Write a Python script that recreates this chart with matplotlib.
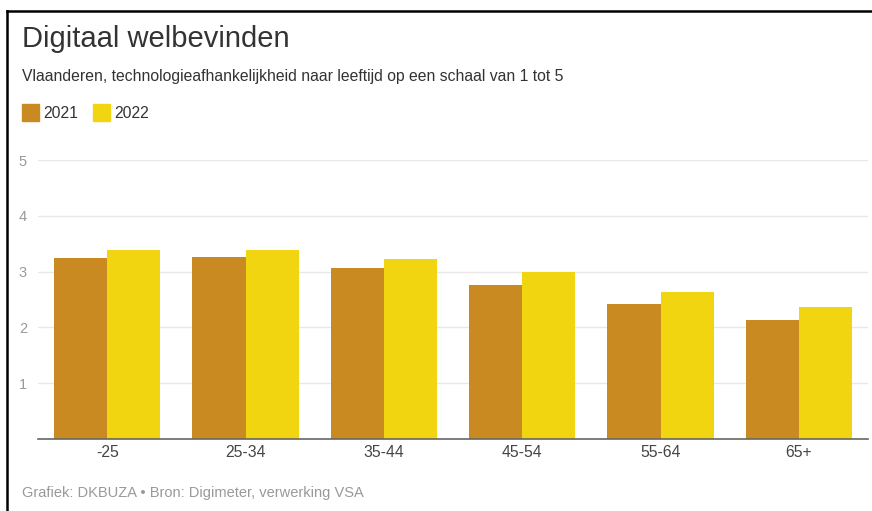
import numpy as np
import matplotlib.pyplot as plt
from matplotlib.lines import Line2D
from matplotlib.patches import Rectangle

plt.rcParams['font.family'] = ['Liberation Sans', 'DejaVu Sans']

# data
leeftijd = ['-25', '25-34', '35-44', '45-54', '55-64', '65+']
jaar_2021 = [3.24, 3.27, 3.06, 2.76, 2.42, 2.13]
jaar_2022 = [3.39, 3.39, 3.22, 2.99, 2.63, 2.37]
kleur_2021 = '#C98A22'
kleur_2022 = '#F0D510'

W, H = 872, 511
fig = plt.figure(figsize=(W / 100, H / 100), dpi=100)
fig.patch.set_facecolor('white')

ax = fig.add_axes([38 / W, 1 - 439 / H, (868 - 38) / W, (439 - 160) / H])
x = np.arange(len(leeftijd))
bw = 0.385
ax.bar(x - bw / 2, jaar_2021, width=bw, color=kleur_2021, zorder=2)
ax.bar(x + bw / 2, jaar_2022, width=bw, color=kleur_2022, zorder=2)

ax.set_xlim(-0.5, len(leeftijd) - 0.5)
ax.set_ylim(0, 5)
ax.set_yticks([1, 2, 3, 4, 5])
ax.set_xticks(x)
ax.set_xticklabels(leeftijd, fontsize=11.3, color='#444444')
ax.tick_params(axis='x', length=0, pad=4)
ax.tick_params(axis='y', length=0, pad=8, labelsize=10.5, labelcolor='#9a9a9a')
ax.yaxis.grid(True, color='#e8e8e8', linewidth=1, zorder=0)
ax.set_axisbelow(True)
for s in ['top', 'right', 'left']:
    ax.spines[s].set_visible(False)
ax.spines['bottom'].set_color('#666666')
ax.spines['bottom'].set_linewidth(1.2)
ax.spines['bottom'].set_zorder(3)

# titels
fig.text(22 / W, 1 - 39 / H, 'Digitaal welbevinden', fontsize=21, color='#333333', va='center')
fig.text(22 / W, 1 - 77 / H, 'Vlaanderen, technologieafhankelijkheid naar leeftijd op een schaal van 1 tot 5',
         fontsize=11.3, color='#333333', va='center')

# legenda
for i, (lab, kl) in enumerate([('2021', kleur_2021), ('2022', kleur_2022)]):
    x0 = 22 + i * 71
    fig.patches.append(Rectangle((x0 / W, 1 - 121 / H), 17 / W, 17 / H, color=kl,
                                 transform=fig.transFigure, figure=fig))
    fig.text((x0 + 21) / W, 1 - 113 / H, lab, fontsize=11.3, color='#333333', va='center')

fig.text(22 / W, 1 - 493 / H, 'Grafiek: DKBUZA \u2022 Bron: Digimeter, verwerking VSA',
         fontsize=10.5, color='#999999', va='center')

# zwarte rand links en boven
fig.lines.append(Line2D([7 / W, 7 / W], [0, 1 - 11 / H], color='black', linewidth=1.8,
                        transform=fig.transFigure, figure=fig))
fig.lines.append(Line2D([7 / W, 1], [1 - 11 / H, 1 - 11 / H], color='black', linewidth=1.8,
                        transform=fig.transFigure, figure=fig))

fig.savefig('out.png', dpi=100)
